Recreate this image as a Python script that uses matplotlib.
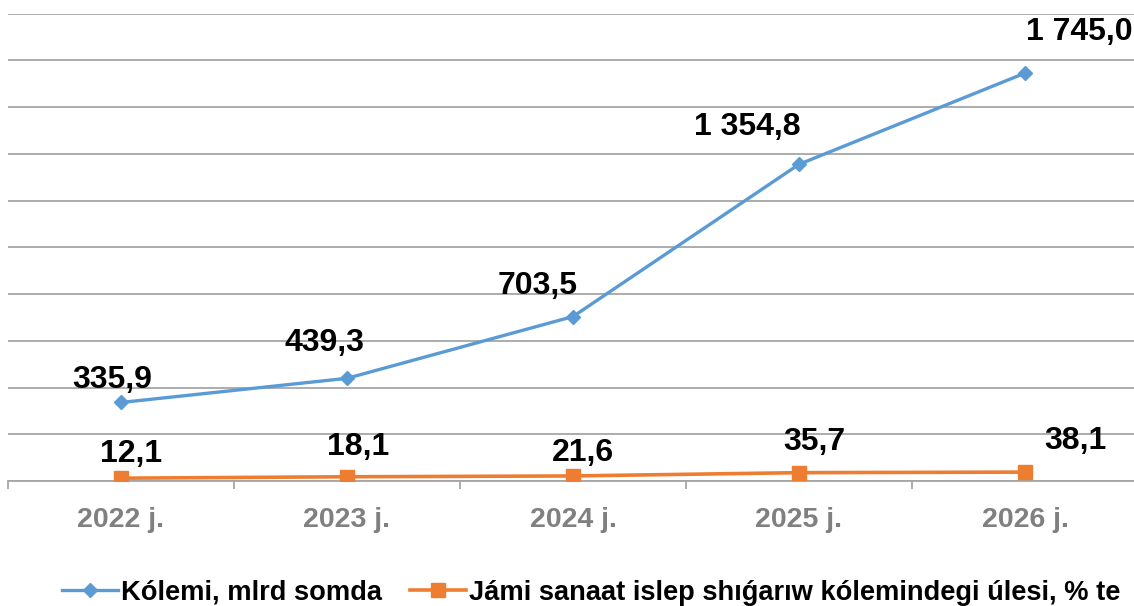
import matplotlib
matplotlib.use("Agg")
import matplotlib.pyplot as plt
from matplotlib.lines import Line2D

categories = ["2022 j.", "2023 j.", "2024 j.", "2025 j.", "2026 j."]
volume = [335.9, 439.3, 703.5, 1354.8, 1745.0]
share = [12.1, 18.1, 21.6, 35.7, 38.1]
volume_labels = ["335,9", "439,3", "703,5", "1 354,8", "1 745,0"]
share_labels = ["12,1", "18,1", "21,6", "35,7", "38,1"]
series_names = ["Kólemi, mlrd somda",
                "Jámi sanaat islep shıǵarıw kólemindegi úlesi, % te"]

plt.rcParams['font.family'] = ['Liberation Sans', 'DejaVu Sans']

BLUE = "#5B9BD5"
ORANGE = "#ED7D31"
GRID = "#A6A6A6"

W, H = 1134, 606
fig = plt.figure(figsize=(W / 100, H / 100), dpi=100)
ax = fig.add_axes([8 / W, (H - 481) / H, 1130 / W, (481 - 13.5) / H])

x = list(range(len(categories)))
ax.plot(x, volume, color=BLUE, lw=2.4, marker="D", ms=7.5, zorder=3)
ax.plot(x, share, color=ORANGE, lw=2.6, marker="s", ms=10.5, zorder=3)

ax.set_xlim(-0.5, len(categories) - 0.5)
ax.set_ylim(0, 2000)
ax.set_yticks(range(0, 2001, 200))
ax.yaxis.grid(True, color=GRID, lw=1.3)
ax.set_axisbelow(True)
ax.tick_params(axis="y", left=False, labelleft=False)
for s in ["left", "right", "top"]:
    ax.spines[s].set_visible(False)
ax.spines["bottom"].set_color(GRID)
ax.spines["bottom"].set_linewidth(1.3)

ax.set_xticks(x)
ax.set_xticklabels(categories, fontsize=20.5, fontweight="bold", color="#808080")
ax.set_xticks([i - 0.5 for i in range(len(categories) + 1)], minor=True)
ax.tick_params(axis="x", which="major", length=0, pad=19)
ax.tick_params(axis="x", which="minor", length=5.5, width=1.3, color=GRID, direction="out")

vol_off = [(-9, 14), (-23, 27), (-35, 23), (-52, 29), (54, 33)]
sh_off = [(10, 16), (11, 22), (10, 15), (15, 23), (50, 23)]
for i in x:
    ax.annotate(volume_labels[i], (i, volume[i]), xytext=vol_off[i],
                textcoords="offset pixels", ha="center", va="baseline",
                fontsize=23, fontweight="bold", color="black",
                annotation_clip=False)
    ax.annotate(share_labels[i], (i, share[i]), xytext=sh_off[i],
                textcoords="offset pixels", ha="center", va="baseline",
                fontsize=23, fontweight="bold", color="black",
                annotation_clip=False)

handles = [Line2D([], [], color=BLUE, lw=2.4, marker="D", ms=7.5),
           Line2D([], [], color=ORANGE, lw=2.6, marker="s", ms=10.5)]
leg = fig.legend(handles, series_names, loc="center", bbox_to_anchor=(591 / W, 1 - 593 / H),
                 ncol=2, frameon=False, prop={"size": 19.6, "weight": "bold"},
                 handlelength=2.05, handletextpad=0.1, columnspacing=1.05, borderpad=0)

fig.savefig("out.png", dpi=100)
